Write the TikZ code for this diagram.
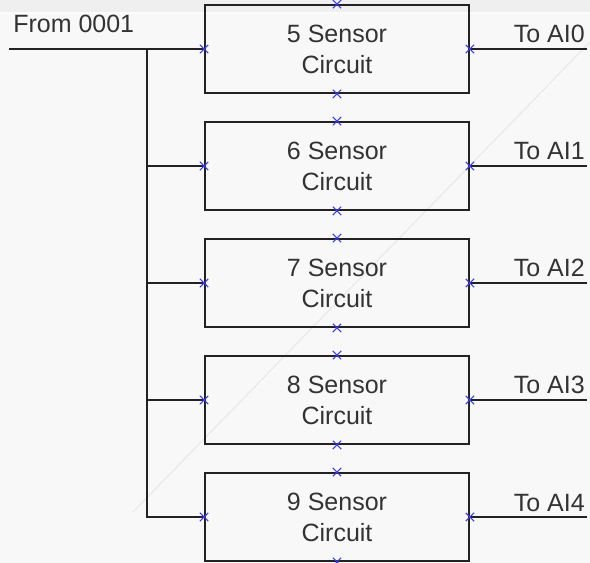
\documentclass[tikz,border=0pt]{standalone}
\usepackage{fontspec}
\setmainfont{Liberation Sans}
\usetikzlibrary{shapes.misc}
\definecolor{inkc}{HTML}{222222}
\definecolor{txtc}{HTML}{333333}
\definecolor{bgc}{HTML}{F8F8F8}
\definecolor{bandc}{HTML}{EFEFEF}
\definecolor{glare}{HTML}{E8E8E8}
\definecolor{markc}{HTML}{3A3AF0}
\begin{document}
\begin{tikzpicture}[x=0.75pt,y=-0.75pt,
  wire/.style={draw=inkc, line width=1.4pt},
  sbox/.style={draw=inkc, line width=1.4pt, minimum width=198pt, minimum height=66pt,
    inner sep=0pt, align=center, text=txtc, font=\fontsize{18.75}{23.25}\selectfont},
  lbl/.style={text=txtc, inner sep=0pt, font=\fontsize{18.75}{23.25}\selectfont},
  xmark/.style={cross out, draw=markc, line width=0.8pt, minimum size=5.5pt, inner sep=0pt}]
% background
\fill[bgc] (0,0) rectangle (590,563);
\fill[bandc] (0,0) rectangle (590,12);
\fill[white!60!bgc] (0,12) rectangle (590,14);
\useasboundingbox (0,0) rectangle (590,563);
\draw[glare, line width=0.8pt] (133,512) -- (590,42);
% boxes
\node[sbox] (s5) at (337,49)  {5 Sensor\\Circuit};
\node[sbox] (s6) at (337,166) {6 Sensor\\Circuit};
\node[sbox] (s7) at (337,283) {7 Sensor\\Circuit};
\node[sbox] (s8) at (337,400) {8 Sensor\\Circuit};
\node[sbox] (s9) at (337,517) {9 Sensor\\Circuit};
% input
\coordinate (in) at (9,49);
\coordinate (bus) at (147,49);
\node[lbl, anchor=base west] (from) at (13,33) {From 0001};
\draw[wire] (in) -- (s5.west);
\foreach \n in {s6,s7,s8,s9} \draw[wire] (bus) |- (\n.west);
% outputs
\foreach \n/\y/\k in {s5/49/0,s6/166/1,s7/283/2,s8/400/3,s9/517/4}{
  \coordinate (o\k) at (587,\y);
  \draw[wire] (\n.east) -- (o\k);
  \node[lbl, anchor=base east] (t\k) at (585,\y-6) {To AI\k};
}
% connection marks
\foreach \n in {s5,s6,s7,s8,s9}
  \foreach \a in {north,south,east,west}
    \node[xmark] at (\n.\a) {};
\end{tikzpicture}
\end{document}
